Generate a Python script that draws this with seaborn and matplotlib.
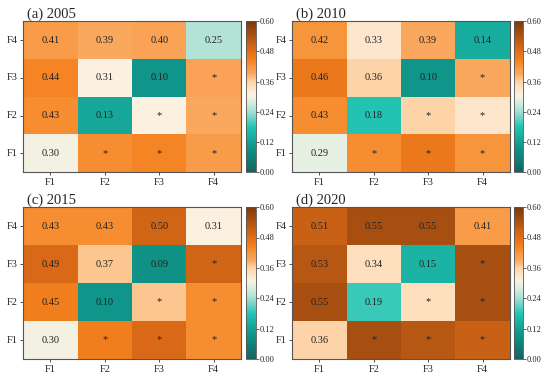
import numpy as np
import pandas as pd
import matplotlib
matplotlib.use("Agg")
import matplotlib.pyplot as plt
import seaborn as sns
from matplotlib.colors import LinearSegmentedColormap

# lower triangle of each symmetric matrix, row Fi holds values for F1..Fi
FACTORS = ["F1", "F2", "F3", "F4"]
YEARS = ["2005", "2010", "2015", "2020"]
PANEL_TAGS = ["(a)", "(b)", "(c)", "(d)"]
v2005 = [[0.30], [0.43, 0.13], [0.44, 0.31, 0.10], [0.41, 0.39, 0.40, 0.25]]
v2010 = [[0.29], [0.43, 0.18], [0.46, 0.36, 0.10], [0.42, 0.33, 0.39, 0.14]]
v2015 = [[0.30], [0.45, 0.10], [0.49, 0.37, 0.09], [0.43, 0.43, 0.50, 0.31]]
v2020 = [[0.36], [0.55, 0.19], [0.53, 0.34, 0.15], [0.51, 0.55, 0.55, 0.41]]
CBAR_TICKS = [0.00, 0.12, 0.24, 0.36, 0.48, 0.60]

sns.set_theme(style="ticks")
plt.rcParams["font.family"] = ["Liberation Serif", "DejaVu Serif"]

# teal -> white -> orange -> brown, nodes as fraction of 0..0.6
cmap = LinearSegmentedColormap.from_list("tealorange", [
    (0.00, "#14645e"),
    (0.17, "#0f978a"),
    (0.30, "#22c4b4"),
    (0.41, "#afe2d6"),
    (0.49, "#ebf2e4"),
    (0.52, "#fdf0e0"),
    (0.60, "#fdd4a8"),
    (0.65, "#fba860"),
    (0.70, "#f7963e"),
    (0.74, "#f5821f"),
    (0.80, "#e36e18"),
    (1.00, "#7b3a0c"),
])


def build(lower):
    n = len(FACTORS)
    m = np.zeros((n, n))
    lab = np.empty((n, n), dtype=object)
    for i, row in enumerate(lower):
        for j, v in enumerate(row):
            m[i, j] = v
            m[j, i] = v
    for i in range(n):
        for j in range(n):
            lab[i, j] = f"{m[i, j]:.2f}" if j <= i else "*"
    # F4 on top
    df = pd.DataFrame(m[::-1], index=FACTORS[::-1], columns=FACTORS)
    return df, lab[::-1]


fig = plt.figure(figsize=(5.5, 3.8), dpi=100)
positions = [
    (0.042, 0.547, 0.396, 0.397, 0.447, 0.018),
    (0.531, 0.547, 0.396, 0.397, 0.935, 0.015),
    (0.042, 0.055, 0.396, 0.400, 0.447, 0.018),
    (0.531, 0.055, 0.396, 0.400, 0.935, 0.015),
]
for data, year, tag, pos in zip([v2005, v2010, v2015, v2020], YEARS, PANEL_TAGS, positions):
    l, b, w, h, cl, cw = pos
    ax = fig.add_axes([l, b, w, h])
    cax = fig.add_axes([cl, b, cw, h])
    df, lab = build(data)
    sns.heatmap(df, ax=ax, cbar_ax=cax, cmap=cmap, vmin=0, vmax=0.6,
                annot=lab, fmt="", annot_kws={"size": 7.5, "color": "#222222"},
                cbar_kws={"ticks": CBAR_TICKS, "format": "%.2f"})
    for s in ax.spines.values():
        s.set_visible(True)
        s.set_linewidth(0.8)
        s.set_color("#555555")
    ax.tick_params(axis="both", labelsize=7.5, length=2.5, width=0.6, pad=1.5,
                   left=True, bottom=True, color="#333333")
    ax.set_yticklabels(ax.get_yticklabels(), rotation=0)
    ax.set_xlabel(""); ax.set_ylabel("")
    ax.set_title(f"{tag} {year}", loc="left", fontsize=10.5, pad=2, x=0.02)
    cax.tick_params(labelsize=6, length=2, width=0.5, pad=1)
    cax.yaxis.set_ticks_position("right")
    cb = ax.collections[0].colorbar
    cb.outline.set_visible(True)
    cb.outline.set_linewidth(0.6)
    cb.outline.set_edgecolor("#555555")

fig.savefig("out.png", dpi=100)
